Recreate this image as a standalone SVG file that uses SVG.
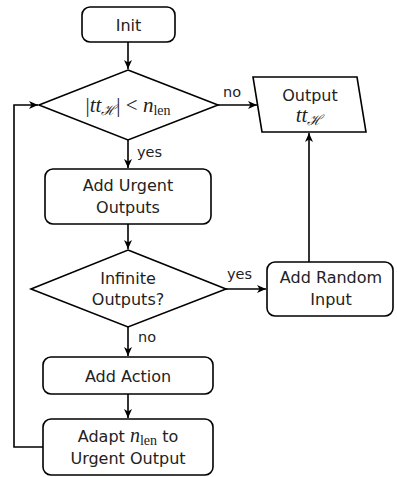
<svg xmlns="http://www.w3.org/2000/svg" width="397" height="477" viewBox="0 0 397 477">
<style>
.box{fill:#fff;stroke:#000;stroke-width:1.6}
.t{font-family:"DejaVu Sans","Liberation Sans",sans-serif;font-size:16px;fill:#222;text-anchor:middle}
.lbl{font-family:"DejaVu Sans","Liberation Sans",sans-serif;font-size:14.5px;fill:#222}
.m{font-family:"Liberation Serif","DejaVu Serif",serif;font-style:italic}
.r{font-family:"Liberation Serif","DejaVu Serif",serif;font-style:normal}
.c{fill:none;stroke:#000;stroke-width:1.6}
</style>
<defs>
<marker id="ah" markerWidth="10" markerHeight="10" refX="9" refY="5" orient="auto" markerUnits="userSpaceOnUse">
<path d="M0,1 L9,5 L0,9 L2.5,5 Z" fill="#000"/>
</marker>
</defs>
<g id="connectors">
<line class="c" x1="128" y1="42" x2="128" y2="69" marker-end="url(#ah)"/>
<line class="c" x1="128" y1="140" x2="128" y2="168" marker-end="url(#ah)"/>
<line class="c" x1="218" y1="105" x2="257" y2="105" marker-end="url(#ah)"/>
<line class="c" x1="128" y1="224" x2="128" y2="249" marker-end="url(#ah)"/>
<line class="c" x1="226" y1="289" x2="266" y2="289" marker-end="url(#ah)"/>
<line class="c" x1="309" y1="262" x2="309" y2="133" marker-end="url(#ah)"/>
<line class="c" x1="128" y1="327" x2="128" y2="356" marker-end="url(#ah)"/>
<line class="c" x1="128" y1="394" x2="128" y2="418" marker-end="url(#ah)"/>
<polyline class="c" points="43,447 14,447 14,105 38,105" marker-end="url(#ah)"/>
<text class="lbl" x="223" y="97">no</text>
<text class="lbl" x="137" y="157">yes</text>
<text class="lbl" x="227" y="279">yes</text>
<text class="lbl" x="138" y="342">no</text>
</g>
<g id="init">
<rect class="box" x="82" y="7" width="93" height="35" rx="8"/>
<text class="t" x="128.5" y="31">Init</text>
</g>
<g id="check-len">
<polygon class="box" points="128,70 218,105 128,140 39,105"/>
<text x="128" y="112" text-anchor="middle" style="font-size:21px;fill:#222"><tspan class="r">|</tspan><tspan class="m">tt</tspan><tspan class="m" font-size="14" dy="3">ℋ</tspan><tspan class="r" dy="-3">|&#160;&lt;&#160;</tspan><tspan class="m">n</tspan><tspan class="r" font-size="14" dy="3">len</tspan></text>
</g>
<g id="output">
<polygon class="box" points="253,77 357,77 366,132 262,132"/>
<text class="t" x="310" y="101">Output</text>
<text x="309" y="122" text-anchor="middle" style="font-size:21px;fill:#222"><tspan class="m">tt</tspan><tspan class="m" font-size="14" dy="3">ℋ</tspan></text>
</g>
<g id="add-urgent">
<rect class="box" x="45" y="169" width="166" height="55" rx="8"/>
<text class="t" x="128" y="191">Add Urgent</text>
<text class="t" x="128" y="213">Outputs</text>
</g>
<g id="infinite">
<polygon class="box" points="128,250 226,289 128,327 31,289"/>
<text class="t" x="128" y="284">Infinite</text>
<text class="t" x="128" y="305">Outputs?</text>
</g>
<g id="add-random">
<rect class="box" x="267" y="262" width="126" height="54" rx="8"/>
<text class="t" x="331" y="283">Add Random</text>
<text class="t" x="331" y="305">Input</text>
</g>
<g id="add-action">
<rect class="box" x="43" y="357" width="170" height="37" rx="8"/>
<text class="t" x="128" y="382">Add Action</text>
</g>
<g id="adapt">
<rect class="box" x="43" y="419" width="170" height="56" rx="8"/>
<text class="t" x="128" y="442">Adapt <tspan class="m" font-size="20">n</tspan><tspan class="r" font-size="14" dy="3">len</tspan><tspan dy="-3"> to</tspan></text>
<text class="t" x="128" y="464">Urgent Output</text>
</g>
</svg>
